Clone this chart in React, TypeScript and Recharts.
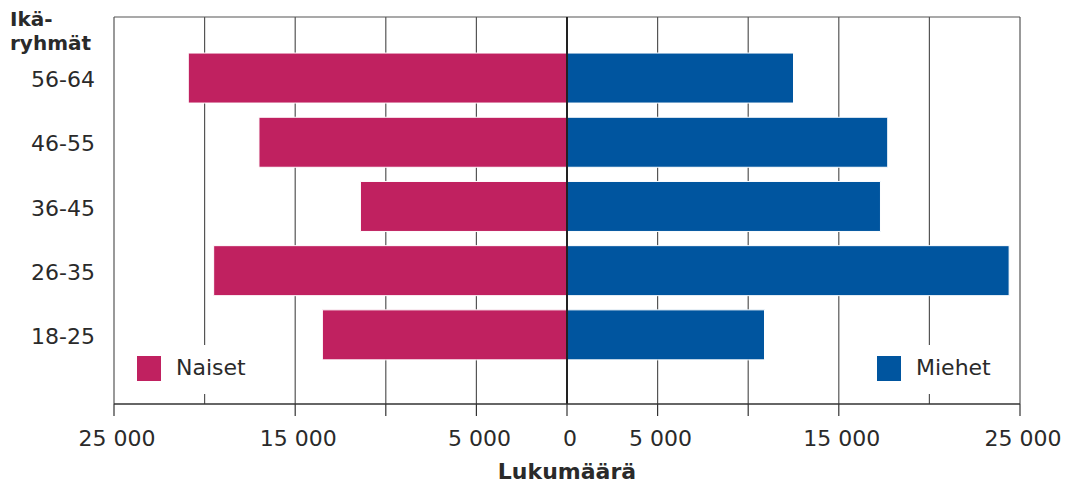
import React from "react";
import {
  BarChart,
  Bar,
  XAxis,
  YAxis,
  CartesianGrid,
  ReferenceLine,
} from "recharts";

const groups = ["56-64", "46-55", "36-45", "26-35", "18-25"];
const naiset = [20900, 17000, 11400, 19500, 13500];
const miehet = [12500, 17700, 17300, 24400, 10900];
const xTicks = [-25000, -20000, -15000, -10000, -5000, 0, 5000, 10000, 15000, 20000, 25000];
const labelledTicks = [-25000, -15000, -5000, 0, 5000, 15000, 25000];
const titleLines = ["Ikä-", "ryhmät"];

const PINK = "#C02160";
const BLUE = "#00559F";
const FONT = "'DejaVu Sans', sans-serif";
const TEXT = "#2a2a2a";

const data = groups.map((g, i) => ({ group: g, naiset: -naiset[i], miehet: miehet[i] }));

const fmt = (v: number) => {
  const a = Math.abs(v);
  if (a === 0) return "0";
  const s = String(a);
  return s.slice(0, s.length - 3) + " " + s.slice(s.length - 3);
};

const XTick = (props: any) => {
  const { x, y, payload } = props;
  const v = payload.value;
  if (Math.abs(v) === 20000) return null;
  const show = labelledTicks.includes(v);
  return (
    <g>
      <line x1={x} x2={x} y1={y - 8} y2={y + 4} stroke="#333" strokeWidth={1.2} />
      {show && (
        <text x={x + 3} y={y + 34} textAnchor="middle" fontFamily={FONT} fontSize={22} fill={TEXT}>
          {fmt(v)}
        </text>
      )}
    </g>
  );
};

const YTick = (props: any) => {
  const { y, payload } = props;
  return (
    <text x={95} y={y + 9} textAnchor="end" fontFamily={FONT} fontSize={22} fill={TEXT}>
      {payload.value}
    </text>
  );
};

const legendItem = (left: number, boxLeft: number, boxW: number, color: string, label: string) => (
  <div
    style={{
      position: "absolute",
      left: boxLeft,
      top: 345,
      width: boxW,
      height: 49,
      background: "#fff",
    }}
  >
    <div
      style={{
        position: "absolute",
        left: left - boxLeft,
        top: 11,
        width: 24,
        height: 25,
        background: color,
      }}
    />
    <div
      style={{
        position: "absolute",
        left: left - boxLeft + 39,
        top: 10,
        fontFamily: FONT,
        fontSize: 22,
        color: TEXT,
        lineHeight: "26px",
        whiteSpace: "nowrap",
      }}
    >
      {label}
    </div>
  </div>
);

export default function App() {
  return (
    <div style={{ position: "absolute", left: 0, top: 0, width: 1068, height: 483, background: "#fff" }}>
      <BarChart
        width={1068}
        height={483}
        data={data}
        layout="vertical"
        stackOffset="sign"
        barCategoryGap="11%"
        margin={{ top: 17, right: 48, bottom: 0, left: 0 }}
      >
        <CartesianGrid
          horizontal={true}
          vertical={true}
          horizontalCoordinatesGenerator={(p: any) => [p.offset.top]}
          stroke="#555"
          strokeWidth={1.2}
        />
        <XAxis
          type="number"
          domain={[-25000, 25000]}
          ticks={xTicks}
          interval={0}
          height={79}
          axisLine={{ stroke: "#333", strokeWidth: 1.5 }}
          tickLine={false}
          tick={<XTick />}
          label={{
            value: "Lukumäärä",
            position: "insideBottom",
            offset: 4,
            style: { fontFamily: FONT, fontSize: 22, fontWeight: "bold", fill: TEXT },
          }}
        />
        <YAxis
          type="category"
          dataKey="group"
          width={114}
          axisLine={false}
          tickLine={false}
          tick={<YTick />}
          padding={{ top: 29, bottom: 37 }}
        />
        <Bar dataKey="naiset" stackId="a" fill={PINK} stroke="#fff" strokeWidth={1} isAnimationActive={false} />
        <Bar dataKey="miehet" stackId="a" fill={BLUE} stroke="#fff" strokeWidth={1} isAnimationActive={false} />
        <ReferenceLine x={0} stroke="#222" strokeWidth={2} />
      </BarChart>
      {titleLines.map((t, i) => (
        <div
          key={t}
          style={{
            position: "absolute",
            left: 10,
            top: 7 + i * 24,
            height: 24,
            fontFamily: FONT,
            fontSize: 20,
            fontWeight: "bold",
            color: TEXT,
            lineHeight: "24px",
            whiteSpace: "nowrap",
          }}
        >
          {t}
        </div>
      ))}
      {legendItem(137, 120, 165, PINK, "Naiset")}
      {legendItem(877, 860, 150, BLUE, "Miehet")}
    </div>
  );
}
